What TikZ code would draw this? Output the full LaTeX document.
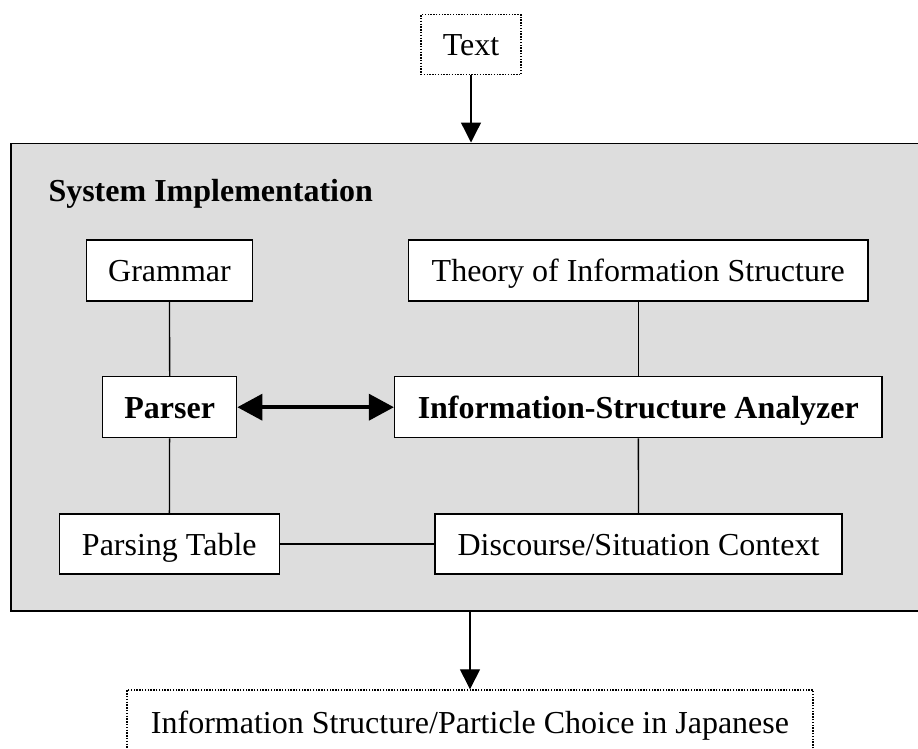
\documentclass[tikz,border=0pt]{standalone}
\usepackage{fontspec}
\setmainfont{Liberation Serif}
\usetikzlibrary{arrows.meta}
\definecolor{panelgray}{RGB}{221,221,221}
\tikzset{
  box/.style={draw=black, fill=white, line width=1.3pt, inner sep=0pt, minimum height=61pt, text height=25pt, text depth=3pt},
  dotbox/.style={draw=black, fill=white, line width=1.4pt, dash pattern=on 1.4pt off 1.4pt, inner sep=0pt, text height=25pt, text depth=3pt},
  link/.style={draw=black, line width=1.3pt},
  flow/.style={draw=black, line width=1.3pt, -{Triangle[length=20pt,width=20pt]}},
  both/.style={draw=black, line width=3.6pt, {Triangle[length=25pt,width=26pt]}-{Triangle[length=25pt,width=26pt]}}
}
\begin{document}
\begin{tikzpicture}[x=1pt, y=-1pt, font=\fontsize{32}{38}\selectfont]
\useasboundingbox (0,0) rectangle (918,748);
\clip (0,0) rectangle (918,748);
% outer panel
\node[draw=black, fill=panelgray, line width=1.6pt, inner sep=0pt, minimum width=909pt, minimum height=467.7pt] (panel) at (465.5,377.15) {};
\node[anchor=base west, inner sep=0pt, font=\fontsize{32}{38}\selectfont\bfseries] (title) at (48.3,201) {System Implementation};
% input / output
\node[dotbox, minimum width=100pt, minimum height=60pt] (text) at (471,44.7) {Text};
\node[dotbox, minimum width=686pt, minimum height=64pt] (out) at (470,722) {Information Structure/Particle Choice in Japanese};
% inner boxes
\node[box, minimum width=165.6pt] (grammar) at (169.5,270.5) {Grammar};
\node[box, minimum width=459.5pt] (theory) at (638.3,270.5) {Theory of Information Structure};
\node[box, minimum width=134pt, font=\fontsize{32}{38}\selectfont\bfseries] (parser) at (169.7,407.2) {Parser};
\node[box, minimum width=487.5pt, font=\fontsize{32}{38}\selectfont\bfseries] (isa) at (638.3,407.2) {Information-Structure Analyzer};
\node[box, minimum width=220pt, minimum height=60pt] (ptable) at (169.3,544) {Parsing Table};
\node[box, minimum width=407pt, minimum height=60pt] (disc) at (638.5,544) {Discourse/Situation Context};
% connectors
\draw[link] (grammar) -- (parser);
\draw[link] (parser) -- (ptable);
\draw[link] (theory) -- (isa);
\draw[link] (isa) -- (disc);
\draw[link] (ptable) -- (disc);
\draw[both] (parser) -- (isa);
\draw[flow] (text.south) -- (text.south |- panel.north);
\draw[flow] (out.north |- panel.south) -- (out.north);
\end{tikzpicture}
\end{document}
